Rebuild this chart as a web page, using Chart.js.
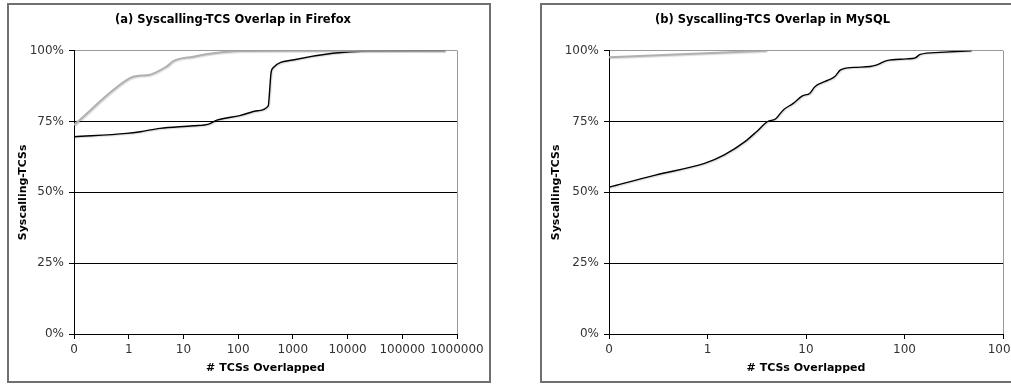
<!DOCTYPE html>
<html>
<head>
<meta charset="utf-8">
<script src="https://cdn.jsdelivr.net/npm/chart.js@4/dist/chart.umd.min.js"></script>
<style>
  body { margin: 0; width: 1011px; height: 384px; overflow: hidden; position: relative; background: #fff; }
  .frame { position: absolute; box-sizing: border-box; border: 2px solid #707070; }
  canvas { position: absolute; }
</style>
</head>
<body>
<div class="frame" style="left:7px; top:3px; width:484px; height:380px;"></div>
<div class="frame" style="left:540px; top:3px; width:500px; height:380px;"></div>
<canvas id="firefox-chart" style="left:9px; top:5px;"></canvas>
<canvas id="mysql-chart" style="left:542px; top:5px;"></canvas>
<script>
// x positions are decades on the axis: 0 -> "0", 1 -> "1", 2 -> "10", ...
const firefoxTicks = ['0', '1', '10', '100', '1000', '10000', '100000', '1000000'];
const mysqlTicks = ['0', '1', '10', '100', '1000'];
const yTicks = [0, 25, 50, 75, 100];

const firefoxGrayX = [0, 1.02, 1.18, 1.33, 1.69, 1.82, 2.18, 2.55, 3.03, 4.0, 6.78];
const firefoxGrayY = [73.8, 90.3, 91.2, 91.3, 94.4, 96.4, 97.9, 99.1, 99.9, 100, 100];
const firefoxBlackX = [0, 0.96, 1.21, 1.57, 2.18, 2.46, 2.61, 3.03, 3.36, 3.55, 3.57, 3.60, 3.64, 4.00, 4.73, 5.36, 6.78];
const firefoxBlackY = [69.6, 70.8, 71.4, 72.6, 73.5, 74.1, 75.5, 77.1, 78.8, 80.5, 84.4, 92.0, 94.0, 96.7, 99.1, 99.9, 100];

const mysqlGrayX = [0, 1.6];
const mysqlGrayY = [97.7, 100];
const mysqlBlackX = [0, 0.47, 0.97, 1.17, 1.38, 1.50, 1.61, 1.69, 1.77, 1.87, 1.96, 2.04, 2.09, 2.23, 2.29, 2.35, 2.48, 2.65, 2.72, 2.82, 3.02, 3.11, 3.16, 3.36, 3.68];
const mysqlBlackY = [51.8, 56.1, 60.2, 63.2, 67.9, 71.5, 75.0, 75.9, 79.1, 81.4, 84.0, 85.0, 87.3, 89.7, 90.8, 93.2, 94.1, 94.4, 95.0, 96.5, 97.1, 97.5, 98.7, 99.4, 100];

const toPoints = (xs, ys) => xs.map((x, i) => ({ x: x, y: ys[i] }));

const shadowPlugin = {
    id: 'lineShadow',
    beforeDatasetDraw: (chart) => {
        const ctx = chart.ctx;
        ctx.save();
        ctx.shadowColor = 'rgba(0,0,0,0.15)';
        ctx.shadowOffsetX = 1;
        ctx.shadowOffsetY = 1;
        ctx.shadowBlur = 1;
    },
    afterDatasetDraw: (chart) => {
        chart.ctx.restore();
    }
};

const rightEdgePlugin = {
    id: 'rightEdge',
    beforeDatasetsDraw: (chart) => {
        const a = chart.chartArea;
        const ctx = chart.ctx;
        ctx.save();
        ctx.strokeStyle = '#999';
        ctx.lineWidth = 1;
        ctx.beginPath();
        ctx.moveTo(Math.round(a.right) + 0.5, a.top);
        ctx.lineTo(Math.round(a.right) + 0.5, a.bottom);
        ctx.stroke();
        ctx.restore();
    }
};

const makeChart = (id, width, titleText, tickLabels, grayPts, blackPts, padRight) => {
    const canvas = document.getElementById(id);
    canvas.width = width;
    canvas.height = 376;
    canvas.style.width = width + 'px';
    canvas.style.height = '376px';
    const font = 'DejaVu Sans, Verdana, sans-serif';
    return new Chart(canvas.getContext('2d'), {
        type: 'line',
        data: {
            datasets: [{
                label: 'gray',
                data: grayPts,
                borderColor: '#b0b0b0',
                borderWidth: 2,
                pointRadius: 0,
                cubicInterpolationMode: 'monotone'
            }, {
                label: 'black',
                data: blackPts,
                borderColor: '#000',
                borderWidth: 1.4,
                pointRadius: 0,
                cubicInterpolationMode: 'monotone'
            }]
        },
        options: {
            responsive: false,
            animation: false,
            layout: { padding: { left: 0, right: padRight, top: 0, bottom: 0 } },
            plugins: {
                legend: { display: false },
                tooltip: { enabled: false },
                title: {
                    display: true,
                    text: titleText,
                    color: '#000',
                    font: { family: font, size: 11.5, weight: 'bold' },
                    padding: { top: 8.1, bottom: 23.8 }
                }
            },
            scales: {
                x: {
                    type: 'linear',
                    min: 0,
                    max: tickLabels.length - 1,
                    afterFit: (s) => { s.height = 47; },
                    afterBuildTicks: (s) => { s.ticks = tickLabels.map((t, i) => ({ value: i })); },
                    ticks: {
                        color: '#333',
                        font: { family: font, size: 12 },
                        padding: 4,
                        maxRotation: 0,
                        autoSkip: false,
                        callback: (v) => tickLabels[v]
                    },
                    grid: { drawOnChartArea: false, drawTicks: true, tickLength: 5, color: '#000' },
                    border: { color: '#000', width: 1 },
                    title: {
                        display: true,
                        text: '# TCSs Overlapped',
                        color: '#000',
                        font: { family: font, size: 11, weight: 'bold' },
                        padding: { top: 0, bottom: 6.4 }
                    }
                },
                y: {
                    min: 0,
                    max: 100,
                    afterFit: (s) => { s.width = id === 'mysql-chart' ? 67 : 65; },
                    afterBuildTicks: (s) => { s.ticks = yTicks.map(v => ({ value: v })); },
                    ticks: {
                        color: '#333',
                        font: { family: font, size: 12 },
                        padding: 5,
                        callback: (v) => v + '%'
                    },
                    grid: {
                        color: (c) => (c.tick && c.tick.value === 100) ? '#999' : '#000',
                        tickColor: '#000',
                        tickLength: 5,
                        lineWidth: 1
                    },
                    border: { color: '#000', width: 1 },
                    title: {
                        display: true,
                        text: 'Syscalling-TCSs',
                        color: '#000',
                        font: { family: font, size: 11, weight: 'bold' },
                        padding: { top: 7.4, bottom: 0 }
                    }
                }
            }
        },
        plugins: [rightEdgePlugin, shadowPlugin]
    });
};

makeChart('firefox-chart', 480, '(a) Syscalling-TCS Overlap in Firefox', firefoxTicks,
    toPoints(firefoxGrayX, firefoxGrayY), toPoints(firefoxBlackX, firefoxBlackY), 32);
makeChart('mysql-chart', 496, '(b) Syscalling-TCS Overlap in MySQL', mysqlTicks,
    toPoints(mysqlGrayX, mysqlGrayY), toPoints(mysqlBlackX, mysqlBlackY), 35);
</script>
</body>
</html>
